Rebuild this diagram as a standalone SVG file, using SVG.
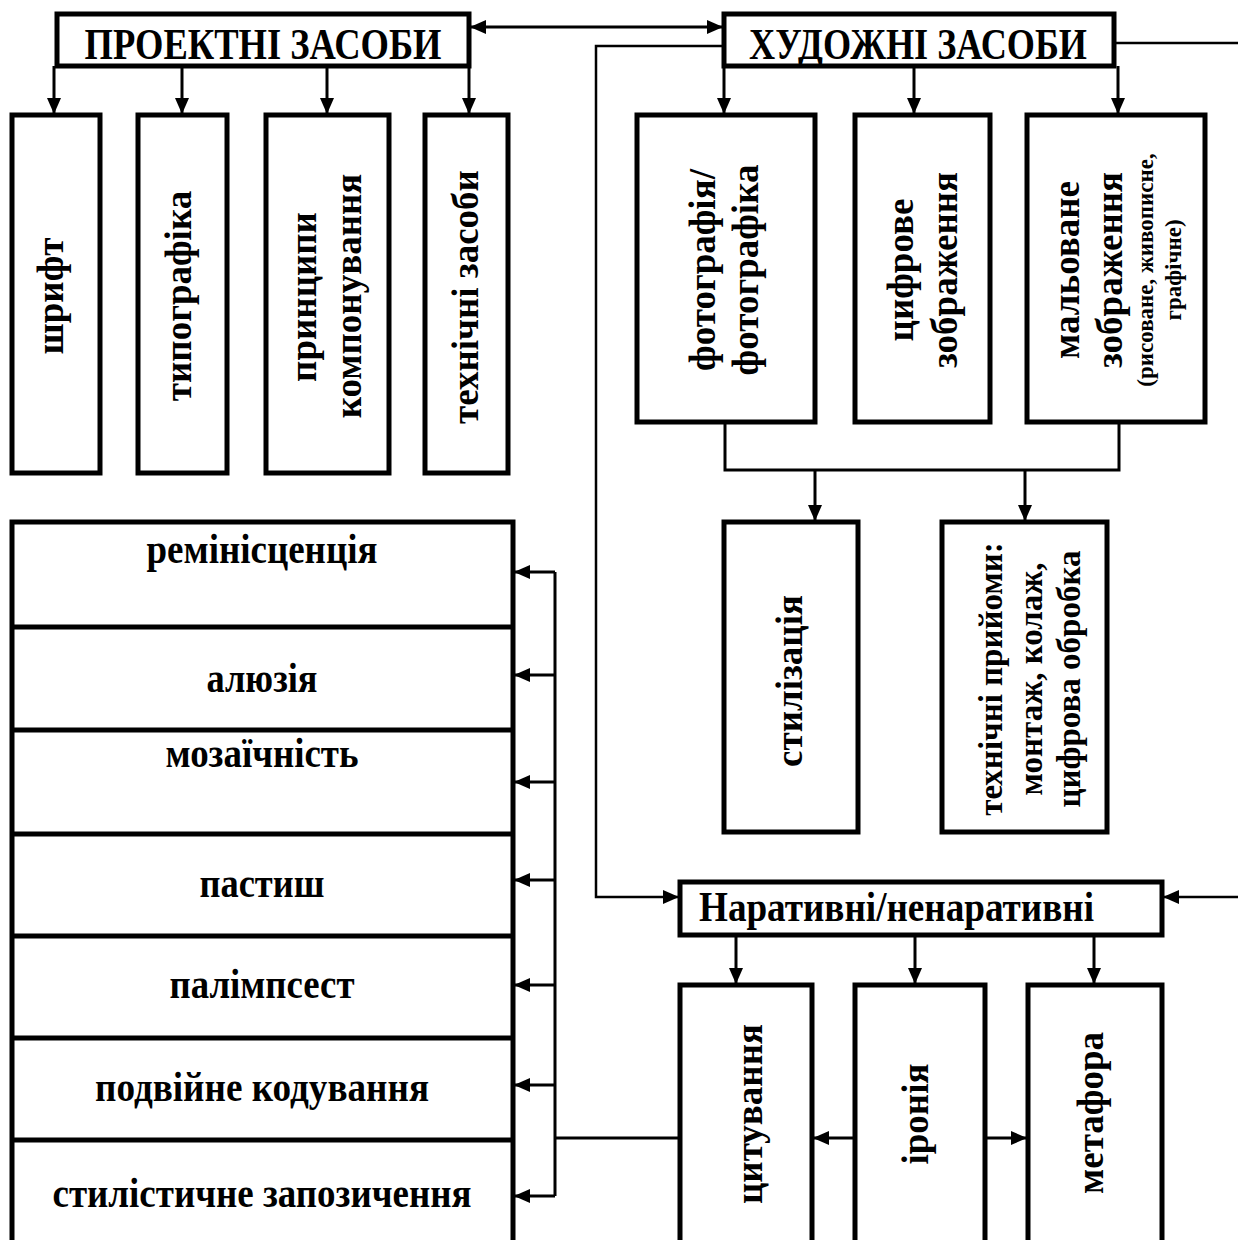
<svg xmlns="http://www.w3.org/2000/svg" width="1238" height="1240" viewBox="0 0 1238 1240">
<style>
.box{fill:#fff;stroke:#000;stroke-width:5}
.ln{fill:none;stroke:#000;stroke-width:3}
.tn{fill:none;stroke:#000;stroke-width:2.5}
text{font-family:"Liberation Serif","Times New Roman",serif;font-weight:bold;fill:#000}
.t{font-size:44px;text-anchor:middle}
.l{font-size:42px;text-anchor:middle}
.v{font-size:37px;text-anchor:middle}
.vs{font-size:33px;text-anchor:middle}
.s{font-size:23px;text-anchor:middle}
</style>
<defs>
<marker id="ah" markerUnits="userSpaceOnUse" markerWidth="16" markerHeight="14" refX="15" refY="7" orient="auto">
<path d="M0,0 L16,7 L0,14 Z" fill="#000"/>
</marker>
<marker id="ahs" markerUnits="userSpaceOnUse" markerWidth="16" markerHeight="14" refX="1" refY="7" orient="auto">
<path d="M16,0 L0,7 L16,14 Z" fill="#000"/>
</marker>
</defs>
<g id="connectors">
<line class="ln" x1="471" y1="27" x2="722" y2="27" marker-start="url(#ahs)" marker-end="url(#ah)"/>
<line class="ln" x1="54" y1="66" x2="54" y2="113" marker-end="url(#ah)"/>
<line class="ln" x1="182" y1="66" x2="182" y2="113" marker-end="url(#ah)"/>
<line class="ln" x1="327" y1="66" x2="327" y2="113" marker-end="url(#ah)"/>
<line class="ln" x1="469" y1="66" x2="469" y2="113" marker-end="url(#ah)"/>
<line class="tn" x1="1114" y1="43" x2="1238" y2="43"/>
<polyline class="tn" points="724,46 596,46 596,897 678,897" marker-end="url(#ah)"/>
<line class="ln" x1="724" y1="66" x2="724" y2="113" marker-end="url(#ah)"/>
<line class="ln" x1="914" y1="66" x2="914" y2="113" marker-end="url(#ah)"/>
<line class="ln" x1="1118" y1="66" x2="1118" y2="113" marker-end="url(#ah)"/>
<polyline class="ln" points="725,422 725,470 1119,470 1119,422"/>
<line class="ln" x1="815" y1="470" x2="815" y2="520" marker-end="url(#ah)"/>
<line class="ln" x1="1025" y1="470" x2="1025" y2="520" marker-end="url(#ah)"/>
<line class="tn" x1="1238" y1="897" x2="1164" y2="897" marker-end="url(#ah)"/>
<line class="ln" x1="736" y1="935" x2="736" y2="983" marker-end="url(#ah)"/>
<line class="ln" x1="915" y1="935" x2="915" y2="983" marker-end="url(#ah)"/>
<line class="ln" x1="1094" y1="935" x2="1094" y2="983" marker-end="url(#ah)"/>
<line class="ln" x1="855" y1="1138" x2="814" y2="1138" marker-end="url(#ah)"/>
<line class="ln" x1="985" y1="1138" x2="1026" y2="1138" marker-end="url(#ah)"/>
<line class="ln" x1="680" y1="1138" x2="555" y2="1138"/>
<line class="ln" x1="555" y1="572" x2="555" y2="1196"/>
<line class="ln" x1="555" y1="572" x2="515" y2="572" marker-end="url(#ah)"/>
<line class="ln" x1="555" y1="675" x2="515" y2="675" marker-end="url(#ah)"/>
<line class="ln" x1="555" y1="782" x2="515" y2="782" marker-end="url(#ah)"/>
<line class="ln" x1="555" y1="880" x2="515" y2="880" marker-end="url(#ah)"/>
<line class="ln" x1="555" y1="985" x2="515" y2="985" marker-end="url(#ah)"/>
<line class="ln" x1="555" y1="1085" x2="515" y2="1085" marker-end="url(#ah)"/>
<line class="ln" x1="555" y1="1196" x2="515" y2="1196" marker-end="url(#ah)"/>
</g>
<g id="proektni">
<rect class="box" x="57" y="14" width="412" height="52"/>
<text class="t" x="263" y="59" textLength="357" lengthAdjust="spacingAndGlyphs">ПРОЕКТНІ ЗАСОБИ</text>
</g>
<g id="khudozhni">
<rect class="box" x="724" y="14" width="390" height="52"/>
<text class="t" x="918" y="59" textLength="338" lengthAdjust="spacingAndGlyphs">ХУДОЖНІ ЗАСОБИ</text>
</g>
<g id="shryft">
<rect class="box" x="12" y="115" width="88" height="358"/>
<text class="v" transform="translate(63,296) rotate(-90)">шрифт</text>
</g>
<g id="typohrafika">
<rect class="box" x="138" y="115" width="89" height="358"/>
<text class="v" transform="translate(191,296) rotate(-90)">типографіка</text>
</g>
<g id="pryntsypy">
<rect class="box" x="266" y="115" width="123" height="358"/>
<text class="v" transform="translate(316,297) rotate(-90)">принципи</text>
<text class="v" transform="translate(361,296) rotate(-90)">компонування</text>
</g>
<g id="tekhnichni">
<rect class="box" x="425" y="115" width="83" height="358"/>
<text class="v" transform="translate(478,297) rotate(-90)">технічні засоби</text>
</g>
<g id="foto">
<rect class="box" x="637" y="115" width="178" height="307"/>
<text class="v" transform="translate(715,270) rotate(-90)">фотографія/</text>
<text class="v" transform="translate(758,270) rotate(-90)">фотографіка</text>
</g>
<g id="tsyfrove">
<rect class="box" x="855" y="115" width="135" height="307"/>
<text class="v" transform="translate(913,270) rotate(-90)">цифрове</text>
<text class="v" transform="translate(957,270) rotate(-90)">зображення</text>
</g>
<g id="malovane">
<rect class="box" x="1027" y="115" width="178" height="307"/>
<text class="v" transform="translate(1079,270) rotate(-90)">мальоване</text>
<text class="v" transform="translate(1122,270) rotate(-90)">зображення</text>
<text class="s" transform="translate(1153,270) rotate(-90)">(рисоване, живописне,</text>
<text class="s" transform="translate(1181,270) rotate(-90)">графічне)</text>
</g>
<g id="styl">
<rect class="box" x="724" y="522" width="134" height="310"/>
<text class="v" transform="translate(802,681) rotate(-90)">стилізація</text>
</g>
<g id="pryiomy">
<rect class="box" x="942" y="522" width="165" height="310"/>
<text class="vs" transform="translate(1002,679) rotate(-90)">технічні прийоми:</text>
<text class="vs" transform="translate(1042,679) rotate(-90)">монтаж, колаж,</text>
<text class="vs" transform="translate(1080,679) rotate(-90)">цифрова обробка</text>
</g>
<g id="naratyvni">
<rect class="box" x="680" y="882" width="482" height="53"/>
<text font-size="42" x="699" y="921" textLength="395" lengthAdjust="spacingAndGlyphs">Наративні/ненаративні</text>
</g>
<g id="tsytuvannia">
<rect class="box" x="680" y="985" width="132" height="265"/>
<text class="v" transform="translate(762,1114) rotate(-90)">цитування</text>
</g>
<g id="ironiia">
<rect class="box" x="855" y="985" width="130" height="265"/>
<text class="v" transform="translate(928,1114) rotate(-90)">іронія</text>
</g>
<g id="metafora">
<rect class="box" x="1028" y="985" width="134" height="265"/>
<text class="v" transform="translate(1103,1113) rotate(-90)">метафора</text>
</g>
<g id="list">
<rect class="box" x="12" y="522" width="501" height="728"/>
<line class="box" x1="12" y1="627" x2="513" y2="627"/>
<line class="box" x1="12" y1="730" x2="513" y2="730"/>
<line class="box" x1="12" y1="834" x2="513" y2="834"/>
<line class="box" x1="12" y1="936" x2="513" y2="936"/>
<line class="box" x1="12" y1="1038" x2="513" y2="1038"/>
<line class="box" x1="12" y1="1140" x2="513" y2="1140"/>
<text class="l" x="262" y="563" textLength="231" lengthAdjust="spacingAndGlyphs">ремініcценція</text>
<text class="l" x="262" y="692" textLength="111" lengthAdjust="spacingAndGlyphs">алюзія</text>
<text class="l" x="262" y="767" textLength="193" lengthAdjust="spacingAndGlyphs">мозаїчність</text>
<text class="l" x="262" y="897" textLength="125" lengthAdjust="spacingAndGlyphs">пастиш</text>
<text class="l" x="262" y="998" textLength="185" lengthAdjust="spacingAndGlyphs">палімпсест</text>
<text class="l" x="262" y="1101" textLength="334" lengthAdjust="spacingAndGlyphs">подвійне кодування</text>
<text class="l" x="262" y="1207" textLength="419" lengthAdjust="spacingAndGlyphs">стилістичне запозичення</text>
</g>
</svg>
